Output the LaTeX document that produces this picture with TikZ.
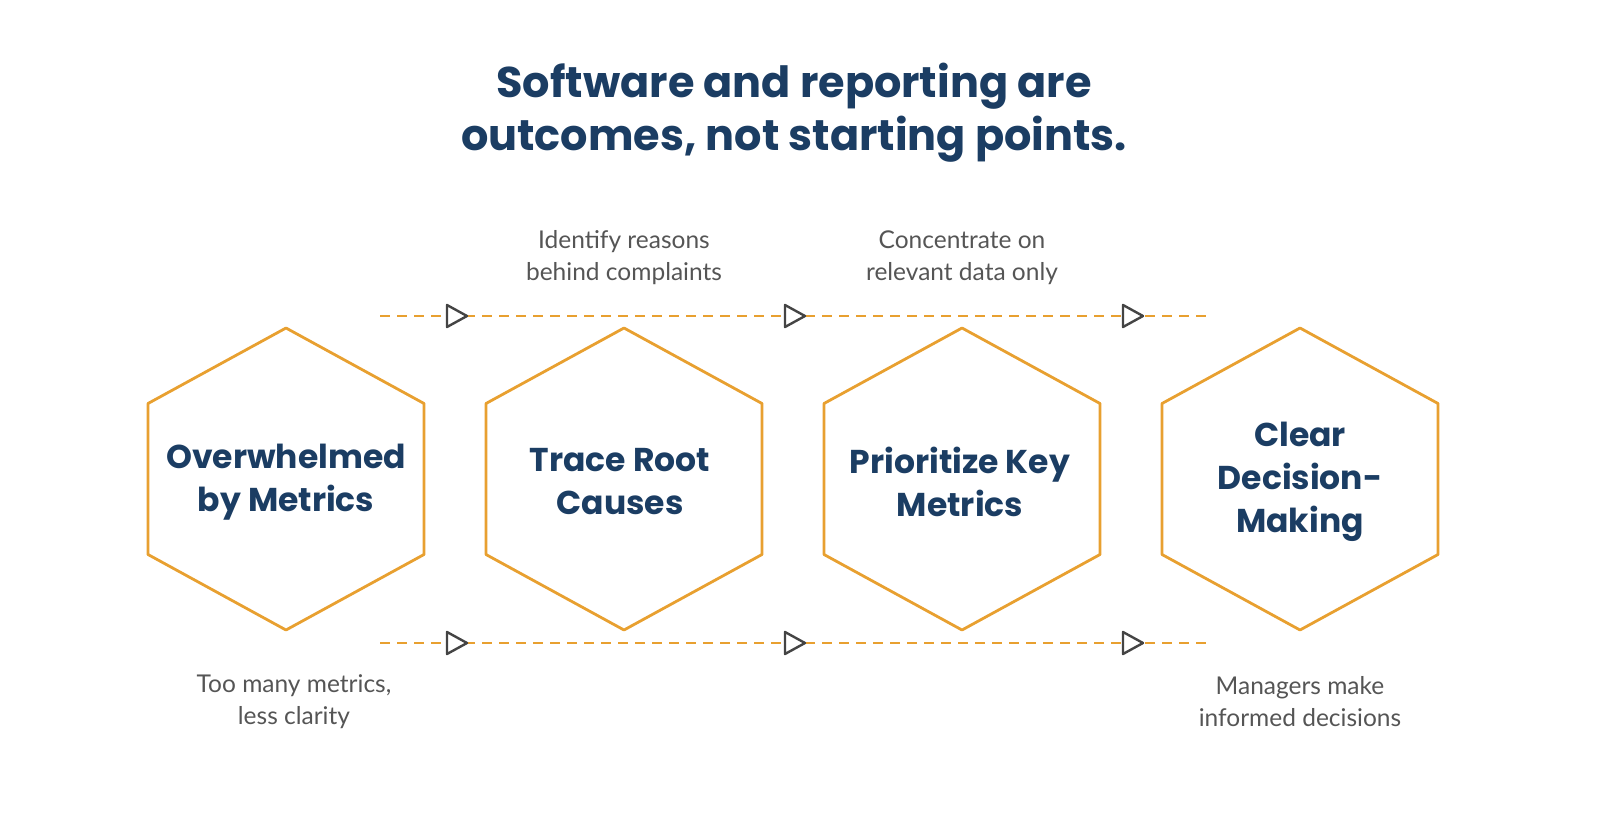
\documentclass[tikz,border=0pt]{standalone}
\usepackage{fontspec}
\setmainfont{Lato}
\newfontfamily\headfont{Poppins}
\usetikzlibrary{positioning}
\definecolor{navy}{HTML}{1B3D63}
\definecolor{hexorange}{HTML}{E8A030}
\definecolor{notegray}{HTML}{555555}
\definecolor{tipgray}{HTML}{444444}
\tikzset{
  hexlabel/.style={text=navy, font=\headfont\bfseries\fontsize{33}{43}\selectfont, align=center},
  note/.style={text=notegray, font=\fontsize{24.5}{32}\selectfont, align=center},
  flow/.style={hexorange, line width=2.6pt, dash pattern=on 10pt off 7pt},
  tip/.style={tipgray, line width=2.4pt, fill=white, line join=round}
}
\newcommand\hexagon[1]{%
  \draw[hexorange, line width=2.8pt, line join=round]
    ([shift={(0,-151)}]#1) -- ([shift={(138,-75.5)}]#1) -- ([shift={(138,75.5)}]#1)
    -- ([shift={(0,151)}]#1) -- ([shift={(-138,75.5)}]#1) -- ([shift={(-138,-75.5)}]#1) -- cycle;}
\begin{document}
\begin{tikzpicture}[x=1pt, y=-1pt]
  \useasboundingbox (0,0) rectangle (1600,840);

  \node[text=navy, font=\headfont\bfseries\fontsize{43}{53}\selectfont, align=center] (title) at (794,113)
    {Software and reporting are\\outcomes, not starting points.};

  % hexagons
  \coordinate (c1) at (286,479);
  \coordinate (c2) at (624,479);
  \coordinate (c3) at (962,479);
  \coordinate (c4) at (1300,479);
  \foreach \c in {c1,c2,c3,c4}{\hexagon{\c}}

  \node[hexlabel] (overwhelm) at (286,482) {Overwhelmed\\by Metrics};
  \node[hexlabel] (trace) at (620,482) {Trace Root\\Causes};
  \node[hexlabel] (prior) at (960,482) {Prioritize Key\\Metrics};
  \node[hexlabel] (clear) at (1300,482) {Clear\\Decision-\\Making};

  % flow lines
  \coordinate (topl) at (380,316);
  \coordinate (topr) at (1208,316);
  \coordinate (botl) at (380,643);
  \coordinate (botr) at (1208,643);
  \draw[flow] (topl) -- (topr);
  \draw[flow] (botl) -- (botr);
  \foreach \x in {456,794,1132}{
    \foreach \y in {316,643}{
      \draw[tip] (\x-9,\y-11) -- (\x+11,\y) -- (\x-9,\y+11) -- cycle;
    }
  }

  % notes
  \node[note] (n1) at (624,258) {Identify reasons\\behind complaints};
  \node[note] (n2) at (962,258) {Concentrate on\\relevant data only};
  \node[note] (n3) at (294,702) {Too many metrics,\\less clarity};
  \node[note] (n4) at (1300,702) {Managers make\\informed decisions};
\end{tikzpicture}
\end{document}
